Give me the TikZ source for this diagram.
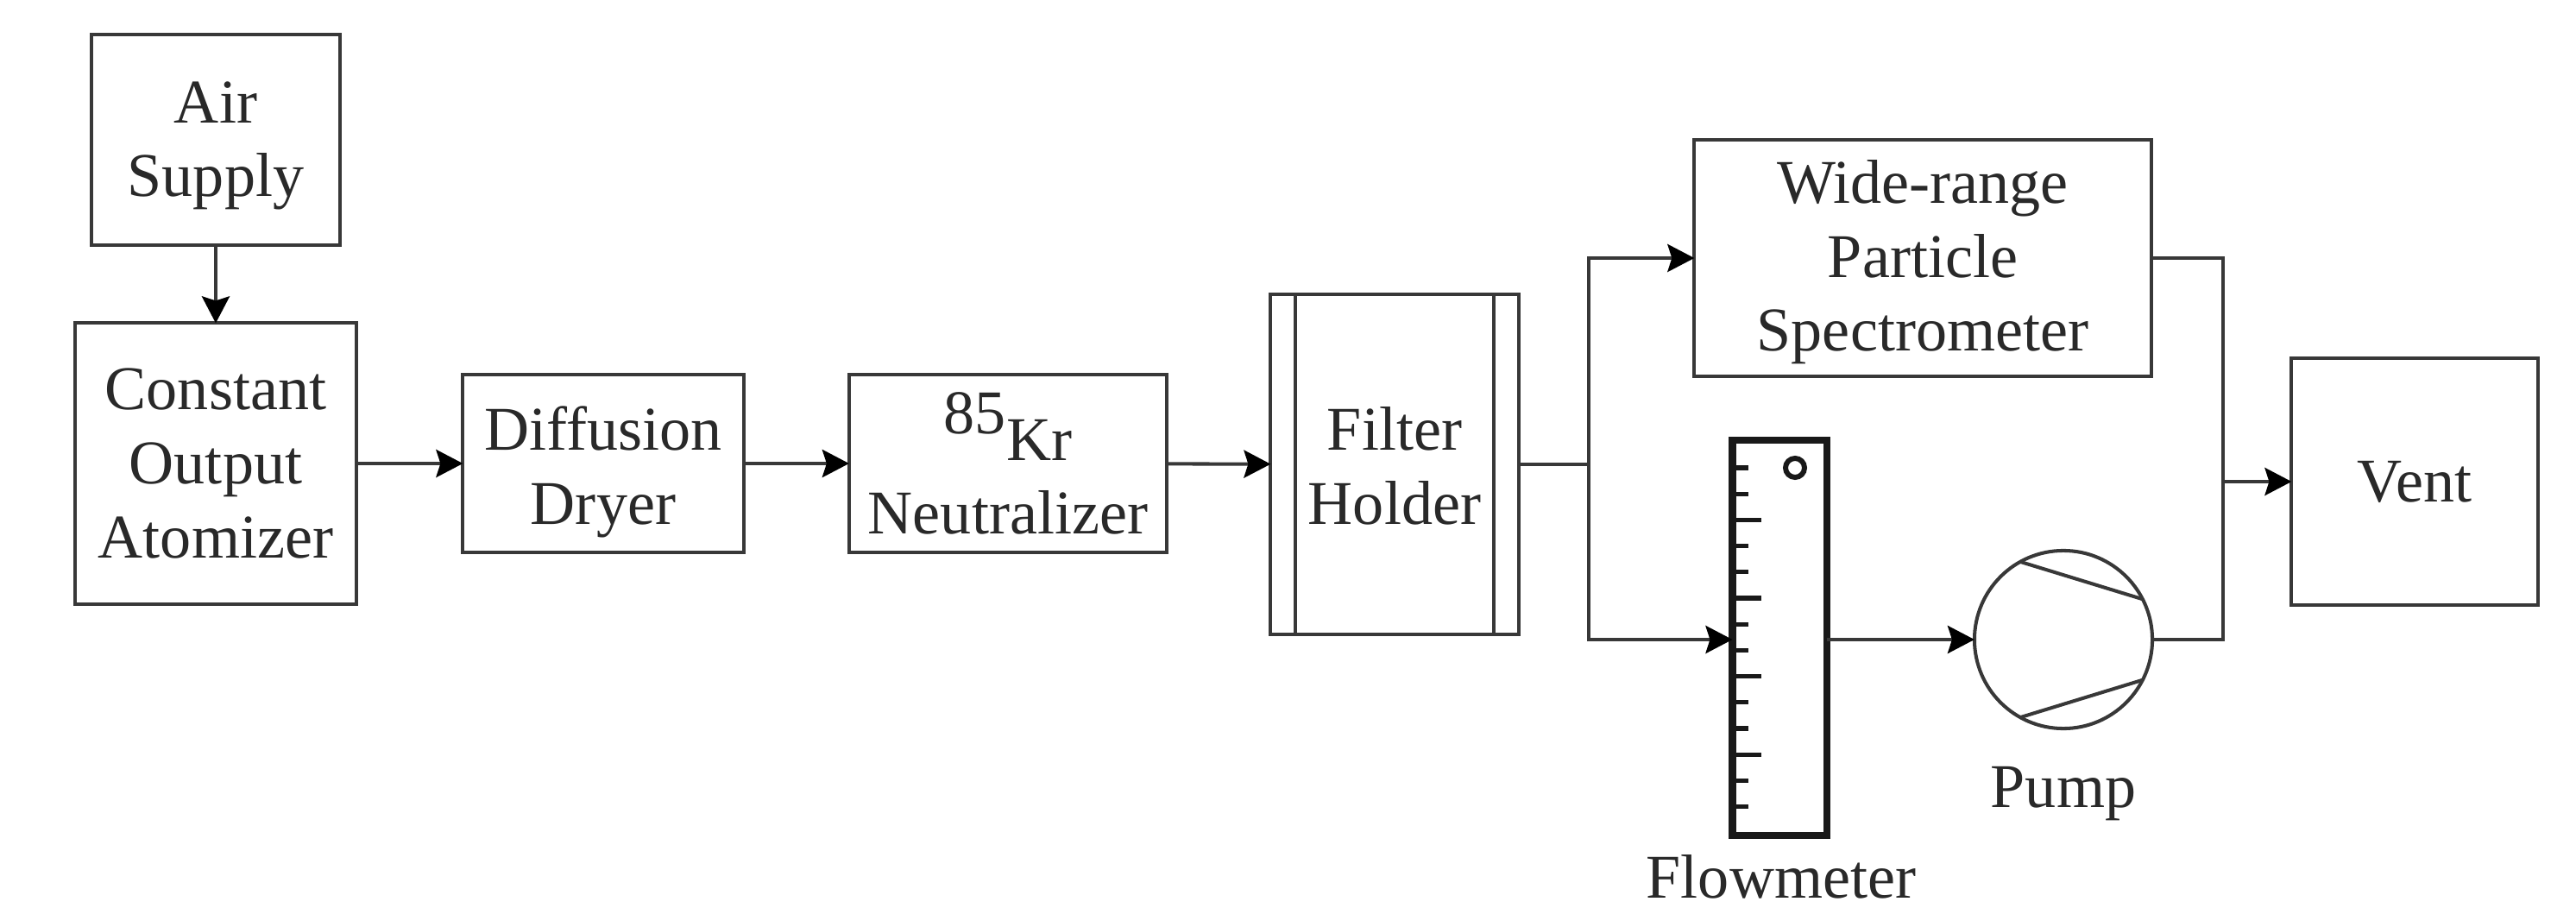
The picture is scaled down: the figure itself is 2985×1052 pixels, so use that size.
\documentclass[tikz,border=0pt]{standalone}
\usepackage{fontspec}
\setmainfont{Liberation Serif}
\usetikzlibrary{arrows.meta, positioning}
\usepackage{xcolor}
\definecolor{linegray}{gray}{0.22}
\definecolor{textgray}{gray}{0.16}
\newcommand{\topstrut}[1]{\rule{0pt}{#1}}

\begin{document}
\begin{tikzpicture}[
    x=0.01cm, y=-0.01cm,
    line width=1.15pt,
    draw=linegray,
    main node/.style={rectangle, draw=linegray, text=textgray, align=center, inner sep=0pt, outer sep=0pt, font=\fontsize{20.5}{24.4}\selectfont},
    label node/.style={text=textgray, inner sep=0pt, font=\fontsize{20.5}{24.4}\selectfont},
    flow/.style={-{Stealth[length=0.31cm, width=0.32cm, inset=0.05cm, color=black]}, draw=linegray}
]
    \useasboundingbox (0,0) rectangle (2985,1052);

    % Nodes
    \node[main node, minimum width=2.87cm, minimum height=2.44cm] (Air) at (250, 162) {\topstrut{17.5pt}Air\\Supply};
    \node[main node, minimum width=3.25cm, minimum height=3.25cm] (Atomizer) at (250, 537) {Constant\\Output\\Atomizer};
    \node[main node, minimum width=3.25cm, minimum height=2.06cm] (Dryer) at (699, 537) {\topstrut{20.2pt}Diffusion\\Dryer};
    \node[main node, minimum width=3.68cm, minimum height=2.06cm] (Neutralizer) at (1168, 537) {\raisebox{8.7pt}{85}Kr\\Neutralizer};
    \node[main node, minimum width=2.87cm, minimum height=3.94cm] (Filter) at (1616, 538) {\topstrut{15.4pt}Filter\\Holder};
    \node[main node, minimum width=5.29cm, minimum height=2.74cm] (Spectrometer) at (2228, 299) {\topstrut{16.9pt}Wide-range\\Particle\\Spectrometer};
    \node[main node, minimum width=2.85cm, minimum height=2.85cm] (Vent) at (2798, 558) {Vent};
    \node[rectangle, draw=black!90, line width=2.3pt, minimum width=1.09cm, minimum height=4.58cm, inner sep=0pt, outer sep=0pt] (Flowmeter) at (2062, 739) {};
    \node[circle, draw=linegray, minimum size=2.06cm, inner sep=0pt, outer sep=0pt] (Pump) at (2391, 741) {};
    \node[label node] (FlowmeterLabel) at (2064, 1016) {Flowmeter};
    \node[label node] (PumpLabel) at (2391, 920) {Pump};
    \coordinate (Branch) at (1841, 538);
    \coordinate (Merge) at (2576, 558);

    % Filter holder bars
    \draw ([xshift=0.29cm]Filter.north west) -- ([xshift=0.29cm]Filter.south west);
    \draw ([xshift=-0.29cm]Filter.north east) -- ([xshift=-0.29cm]Filter.south east);

    % Flowmeter scale
    \foreach \i in {0,...,13} {
        \pgfmathtruncatemacro{\ismajor}{(mod(\i,3)==2) ? 1 : 0}
        \pgfmathsetmacro{\ticklen}{\ismajor==1 ? 36 : 21}
        \draw[black!90, line width=1.5pt] (2005, 542+30.2*\i) -- ++(\ticklen, 0);
    }
    \node[circle, draw=black!90, line width=1.7pt, minimum size=0.22cm, inner sep=0pt] (FlowmeterHole) at (2080, 542) {};

    % Pump chords
    \draw (Pump.119) -- (Pump.27);
    \draw (Pump.241) -- (Pump.333);

    % Edges
    \draw[flow] (Air) -- (Atomizer);
    \draw[flow] (Atomizer) -- (Dryer);
    \draw[flow] (Dryer) -- (Neutralizer);
    \draw[flow] (Neutralizer) -- (Filter);
    \draw (Filter.east |- Branch) -- (Branch);
    \draw[flow] (Branch) |- (Spectrometer);
    \draw[flow] (Branch) |- (Flowmeter.west |- Pump);
    \draw[flow] (Flowmeter.east |- Pump) -- (Pump);
    \draw (Spectrometer) -| (Merge);
    \draw (Pump) -| (Merge);
    \draw[flow] (Merge) -- (Vent);
\end{tikzpicture}
\end{document}
